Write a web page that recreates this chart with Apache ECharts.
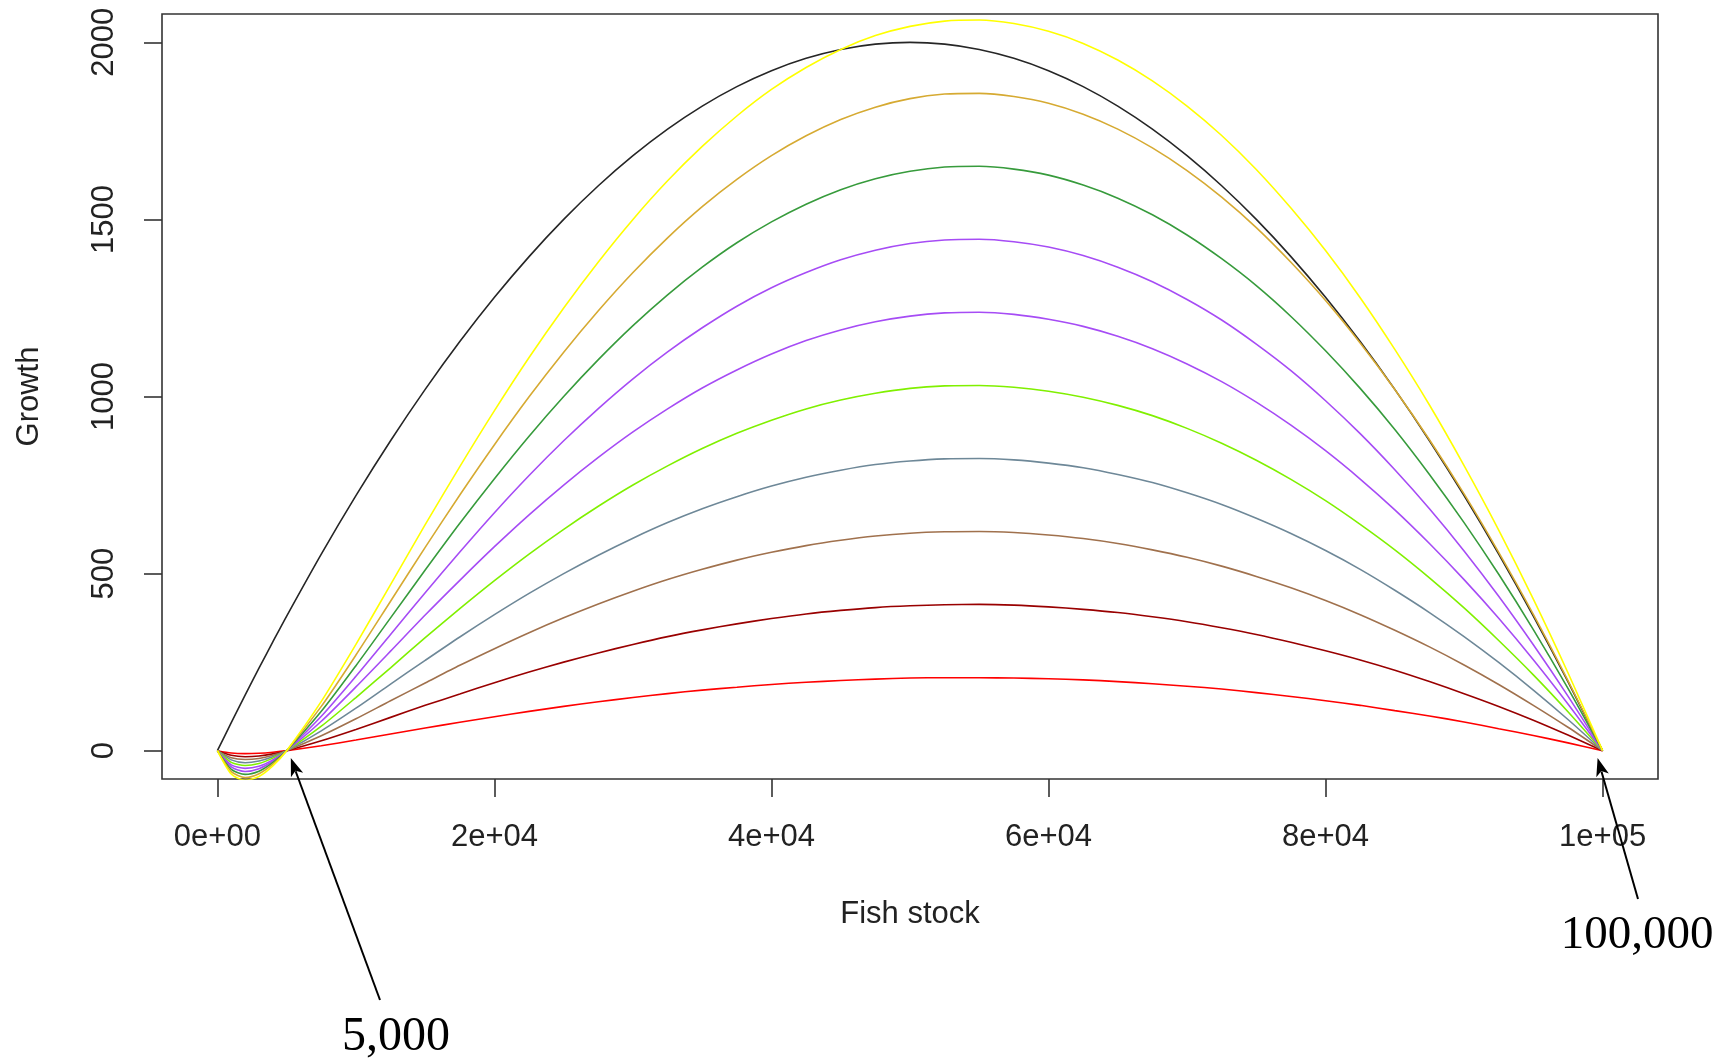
<!DOCTYPE html>
<html>
<head>
<meta charset="utf-8">
<script src="https://cdn.jsdelivr.net/npm/echarts@6/dist/echarts.min.js"></script>
<style>
html,body{margin:0;padding:0;background:#fff;}
#chart{width:1724px;height:1061px;}
</style>
</head>
<body>
<div id="chart"></div>
<script>
// ---- data ----
const fishStock = [0,1000,2000,3000,4000,5000,7500,10000,12500,15000,17500,20000,22500,25000,27500,30000,32500,35000,37500,40000,42500,45000,47500,50000,52500,55000,57500,60000,62500,65000,67500,70000,72500,75000,77500,80000,82500,85000,87500,90000,92500,95000,97500,100000];

const growthBlack = [0,79,157,233,307,380, 555,720,875,1020,1155,1280,1395,1500,1595,1680, 1755,1820,1875,1920,1955,1980,1995,2000, 1995,1980,1955,1920,1875,1820,1755,1680, 1595,1500,1395,1280,1155,1020,875,720, 555,380,195,0];
const growthRed = [0,-6.6,-8.4,-7.3,-4.3,0, 14,30,47,64,80,96,111,125,138,150, 161,171,179,187,193,198,202,205, 206,206,205,203,200,195,189,182, 174,164,153,141,128,113,98,81, 62,43,22,0];
const growthDarkRed = [0,-13,-17,-15,-9,0, 28,60,94,128,160,192,222,250,276,300, 322,341,358,373,386,396,404,409, 412,413,411,406,399,390,378,364, 347,328,306,282,256,227,195,161, 125,86,44,0];
const growthBrown = [0,-20,-25,-22,-13,0, 42,90,141,191,241,288,333,375,414,450, 483,512,538,560,579,594,606,614, 618,619,616,609,599,585,567,546, 521,492,460,424,384,340,293,242, 187,128,66,0];
const growthSlate = [0,-26,-34,-29,-17,0, 56,120,188,255,321,384,444,500,552,600, 644,683,717,747,772,792,808,818, 824,825,821,812,799,780,757,728, 695,656,613,565,512,453,390,322, 249,171,88,0];
const growthLawn = [0,-33,-42,-36,-21,0, 69,150,234,319,401,480,555,625,690,750, 804,853,896,933,965,990,1009,1023, 1030,1031,1026,1015,998,975,946,910, 868,820,766,706,639,567,488,403, 311,214,110,0];
const growthPurpleLow = [0,-40,-50,-44,-26,0, 83,180,281,383,481,576,666,750,828,900, 965,1024,1075,1120,1158,1188,1211,1227, 1236,1238,1232,1218,1198,1170,1135,1092, 1042,984,919,847,767,680,585,483, 374,257,132,0];
const growthPurpleHigh = [0,-46,-59,-51,-30,0, 97,210,328,446,561,672,777,875,966,1050, 1126,1194,1255,1307,1350,1386,1413,1432, 1442,1444,1437,1422,1398,1365,1324,1274, 1216,1148,1073,988,895,793,683,564, 436,299,154,0];
const growthGreen = [0,-53,-67,-58,-34,0, 111,240,375,510,642,768,888,1000,1104,1200, 1287,1365,1434,1493,1543,1584,1615,1636, 1648,1650,1642,1625,1597,1560,1513,1456, 1389,1313,1226,1129,1023,907,780,644, 498,342,176,0];
const growthGold = [0,-59,-76,-65,-38,0, 125,270,422,574,722,864,999,1125,1242,1350, 1448,1536,1613,1680,1736,1782,1817,1841, 1854,1856,1847,1828,1797,1755,1702,1638, 1563,1477,1379,1271,1151,1020,878,725, 560,385,198,0];
const growthYellow = [0,-66,-84,-73,-43,0, 139,300,469,638,802,960,1110,1250,1380,1500, 1609,1706,1792,1867,1929,1980,2019,2045, 2060,2063,2053,2031,1997,1950,1891,1820, 1737,1641,1532,1412,1279,1133,976,805, 623,428,220,0];

const xTickValues = [0,20000,40000,60000,80000,100000];
const xTickLabels = ['0e+00','2e+04','4e+04','6e+04','8e+04','1e+05'];
const yTickValues = [0,500,1000,1500,2000];
const yTickLabels = ['0','500','1000','1500','2000'];

const seriesDefs = [
  {name:'black', color:'#262626', values: growthBlack},
  {name:'red', color:'#ff0000', values: growthRed},
  {name:'darkred', color:'#990000', values: growthDarkRed},
  {name:'brown', color:'#a0714d', values: growthBrown},
  {name:'slate', color:'#6e8898', values: growthSlate},
  {name:'lawngreen', color:'#80f000', values: growthLawn},
  {name:'purple1', color:'#a64cf5', values: growthPurpleLow},
  {name:'purple2', color:'#a64cf5', values: growthPurpleHigh},
  {name:'green', color:'#379b3c', values: growthGreen},
  {name:'goldenrod', color:'#d6aa32', values: growthGold},
  {name:'yellow', color:'#ffff00', values: growthYellow}
];

const chart = echarts.init(document.getElementById('chart'), null, {renderer:'canvas'});
const axisFont = {fontFamily:'Liberation Sans, Arial, sans-serif', fontSize:31, color:'#222'};

chart.setOption({
  animation:false,
  backgroundColor:'#fff',
  grid:{left:162, top:14, width:1496, height:765, show:true, borderColor:'#333', borderWidth:1.6, backgroundColor:'transparent'},
  xAxis:{
    type:'value', min:-4000, max:104000,
    name:'Fish stock', nameLocation:'middle', nameGap:120,
    nameTextStyle: axisFont,
    axisLine:{show:false, onZero:false},
    splitLine:{show:false},
    axisTick:{show:true, inside:false, length:18, lineStyle:{color:'#333', width:1.6}, customValues:xTickValues},
    axisLabel:{show:true, margin:43, customValues:xTickValues, fontFamily:axisFont.fontFamily, fontSize:31, color:'#222',
      formatter:(v)=>{const i = xTickValues.indexOf(v); return i>=0 ? xTickLabels[i] : '';}}
  },
  yAxis:{
    type:'value', min:-80, max:2080,
    name:'Growth', nameLocation:'middle', nameGap:117, nameRotate:90,
    nameTextStyle: axisFont,
    axisLine:{show:false, onZero:false},
    splitLine:{show:false},
    axisTick:{show:true, inside:false, length:18, lineStyle:{color:'#333', width:1.6}, customValues:yTickValues},
    axisLabel:{show:true, margin:42, rotate:90, customValues:yTickValues, fontFamily:axisFont.fontFamily, fontSize:31, color:'#222',
      formatter:(v)=>{const i = yTickValues.indexOf(v); return i>=0 ? yTickLabels[i] : '';}}
  },
  series: seriesDefs.map(s=>({
    name:s.name, type:'line', showSymbol:false, symbol:'none', smooth:0.25, clip:true,
    lineStyle:{color:s.color, width:1.6},
    emphasis:{disabled:true},
    data: fishStock.map((x,i)=>[x, s.values[i]])
  }))
});

// ---- annotations (arrows pointing to 5,000 and 100,000) ----
function arrow(tail, tipData){
  const tip = chart.convertToPixel({xAxisIndex:0, yAxisIndex:0}, tipData);
  const dx = tip[0]-tail[0], dy = tip[1]-tail[1];
  const len = Math.sqrt(dx*dx+dy*dy);
  const ux = dx/len, uy = dy/len, nx = -uy, ny = ux;
  const L = 18, W = 6.5;
  const bx = tip[0]-L*ux, by = tip[1]-L*uy;
  return [
    {type:'line', shape:{x1:tail[0], y1:tail[1], x2:bx+ux*4, y2:by+uy*4}, style:{stroke:'#000', lineWidth:2}, z:100},
    {type:'polygon', shape:{points:[[tip[0],tip[1]],[bx+W*nx,by+W*ny],[tip[0]-L*0.75*ux,tip[1]-L*0.75*uy],[bx-W*nx,by-W*ny]]}, style:{fill:'#000'}, z:100}
  ];
}
const g = [].concat(
  arrow([380,1000], [5300,-21]),
  arrow([1638,899], [99640,-21]),
  [
    {type:'text', x:396, y:1037, style:{text:'5,000', font:'48px "Liberation Serif", "Times New Roman", serif', fill:'#000', align:'center', verticalAlign:'middle'}, z:100},
    {type:'text', x:1637, y:936, style:{text:'100,000', font:'47px "Liberation Serif", "Times New Roman", serif', fill:'#000', align:'center', verticalAlign:'middle'}, z:100}
  ]
);
chart.setOption({graphic:g});
</script>
</body>
</html>
